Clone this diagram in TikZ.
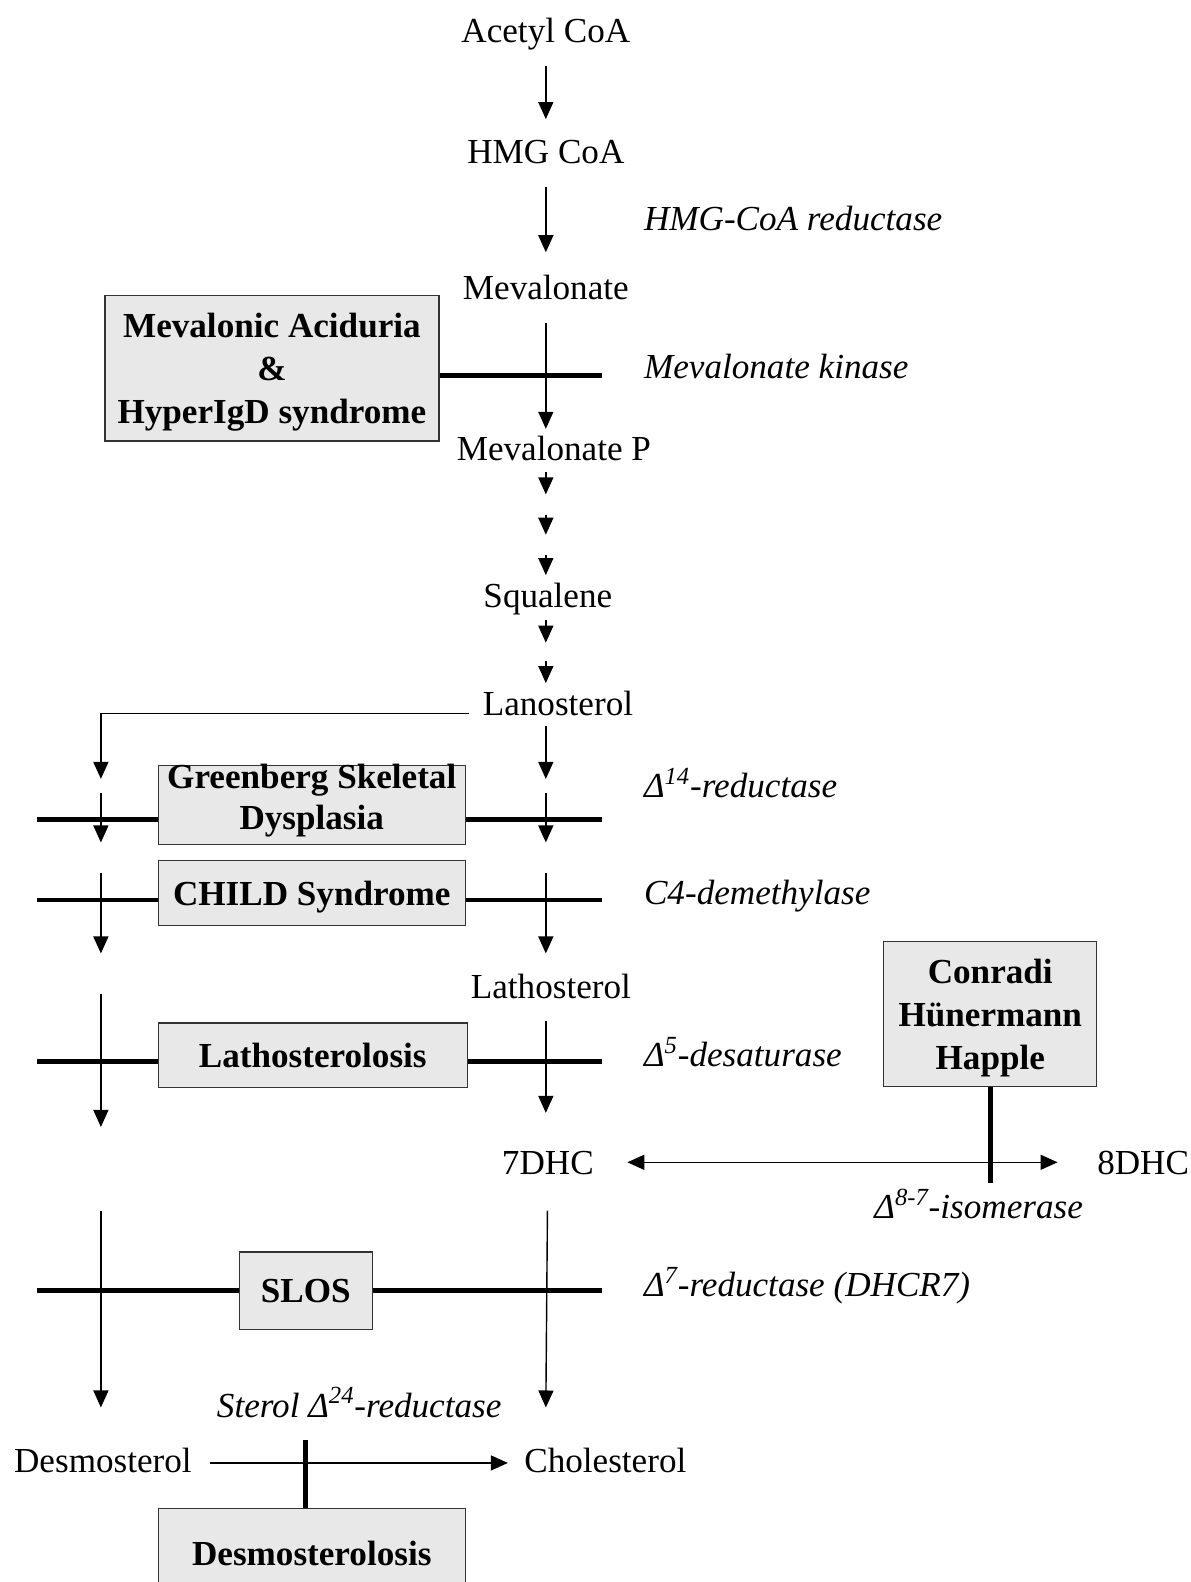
\documentclass[tikz,border=0pt]{standalone}
\usepackage{fontspec}
\setmainfont{Liberation Serif}
\usetikzlibrary{arrows.meta,positioning,calc}
\newdimen\pxu \pxu=0.02018cm

\begin{document}
\begin{tikzpicture}[
  x=0.02018cm, y=-0.02018cm,
  font=\fontsize{20}{24}\selectfont,
  metab/.style={inner sep=0pt, text height=30\pxu, text depth=5\pxu},
  enzyme/.style={inner sep=0pt, text height=30\pxu, text depth=5\pxu, font=\fontsize{20}{24}\selectfont\itshape, anchor=west},
  disease/.style={draw=black!80, fill=black!9, line width=0.7pt, align=center, inner sep=0pt, text depth=0pt, font=\fontsize{20}{24.5}\selectfont\bfseries},
  rxn/.style={-{Triangle[width=0.3cm, length=0.34cm]}, line width=0.8pt},
  block/.style={line width=2.6pt}
]
  \useasboundingbox (0,0) rectangle (1180,1568);

  % metabolites
  \node[metab] (acetyl) at (541,30) {Acetyl CoA};
  \node[metab] (hmg) at (541,150) {HMG CoA};
  \node[metab] (mev) at (541,284) {Mevalonate};
  \node[metab] (mevp) at (549,444) {Mevalonate P};
  \node[metab] (squa) at (543,590) {Squalene};
  \node[metab] (lano) at (553,697) {Lanosterol};
  \node[metab] (latho) at (546,977) {Lathosterol};
  \node[metab] (dhc7) at (543,1152) {7DHC};
  \node[metab] (dhc8) at (1133,1152) {8DHC};
  \node[metab] (desmo) at (102,1447) {Desmosterol};
  \node[metab] (chol) at (600,1447) {Cholesterol};

  % enzymes
  \node[enzyme] (hmgr) at (638,216) {HMG-CoA reductase};
  \node[enzyme] (mevk) at (638,363) {Mevalonate kinase};
  \node[enzyme] (d14) at (638,778) {Δ\textsuperscript{14}-reductase};
  \node[enzyme] (c4) at (638,884) {C4-demethylase};
  \node[enzyme] (d5) at (638,1045) {Δ\textsuperscript{5}-desaturase};
  \node[enzyme] (d7) at (638,1273) {Δ\textsuperscript{7}-reductase (DHCR7)};
  \node[enzyme, anchor=center] (d87) at (970,1195) {Δ\textsuperscript{8-7}-isomerase};
  \node[enzyme, anchor=center] (d24) at (356,1392) {Sterol Δ\textsuperscript{24}-reductase};

  % diseases
  \node[disease, minimum width=331\pxu, minimum height=144\pxu] (mevac) at (269.5,365) {Mevalonic Aciduria\\\&\\HyperIgD syndrome};
  \node[disease, minimum width=304\pxu, minimum height=78\pxu, text height=63\pxu, text depth=15\pxu,
    font=\fontsize{20}{23.5}\selectfont\bfseries] (greenberg) at (309,798) {Greenberg Skeletal\\Dysplasia};
  \node[disease, minimum width=304\pxu, minimum height=64\pxu] (child) at (309,885) {CHILD Syndrome};
  \node[disease, minimum width=306\pxu, minimum height=64\pxu] (lathosis) at (310,1046) {Lathosterolosis};
  \node[disease, minimum width=211\pxu, minimum height=144\pxu] (conradi) at (981.5,1005) {Conradi\\Hünermann\\Happle};
  \node[disease, minimum width=132\pxu, minimum height=77\pxu] (slos) at (303,1279.5) {SLOS};
  \node[disease, minimum width=304\pxu, minimum height=90\pxu] (desmosis) at (309,1540) {Desmosterolosis};

  % main column
  \draw[rxn, shorten <=35\pxu, shorten >=32\pxu] (acetyl.center) -- (hmg.center);
  \draw[rxn, shorten <=35\pxu, shorten >=34\pxu] (hmg.center) -- (mev.center);
  \draw[rxn, shorten <=36\pxu, shorten >=19\pxu] (mev.center) -- (mev.center |- mevp.center);
  \foreach \ya/\yb in {468/490, 510/530, 550/570, 615/637, 655/677}
    \draw[rxn] (541,\ya) -- (541,\yb);
  \coordinate (colR) at (541,772);
  \draw[rxn, shorten <=23\pxu] (colR |- lano.center) -- (colR);
  \draw[rxn, shorten <=13\pxu] ($(lano.west)+(0,10)$) -| (100,772);
  \foreach \ya/\yb in {786/835, 865/945} {
    \draw[rxn] (100,\ya) -- (100,\yb);
    \draw[rxn] (541,\ya) -- (541,\yb);
  }
  \draw[rxn] (100,985) -- (100,1117);
  \draw[rxn, shorten <=35\pxu] (colR |- latho.center) -- (541,1103);
  \draw[rxn] (100,1200) -- (100,1395);
  \draw[rxn, shorten <=48\pxu] (dhc7.center) -- (541,1395);

  % side reactions
  \draw[{Triangle[width=0.3cm, length=0.34cm]}-{Triangle[width=0.3cm, length=0.34cm]}, line width=0.8pt,
    shorten <=33\pxu, shorten >=39\pxu] (dhc7.east) -- (dhc8.west);
  \draw[rxn, shorten <=18\pxu, shorten >=16\pxu] ($(desmo.east)+(0,3)$) -- ($(chol.west)+(0,3)$);

  % blocks
  \coordinate (mkR) at (597,372);
  \draw[block] (mkR -| mevac.east) -- (mkR);
  \coordinate (gL) at (37,812); \coordinate (gR) at (597,812);
  \draw[block] (gL) -- (gL -| greenberg.west) (gR -| greenberg.east) -- (gR);
  \coordinate (cL) at (37,892); \coordinate (cR) at (597,892);
  \draw[block] (cL) -- (cL -| child.west) (cR -| child.east) -- (cR);
  \coordinate (lL) at (37,1052); \coordinate (lR) at (597,1052);
  \draw[block] (lL) -- (lL -| lathosis.west) (lR -| lathosis.east) -- (lR);
  \coordinate (sL) at (37,1279); \coordinate (sR) at (597,1279);
  \draw[block] (sL) -- (sL -| slos.west) (sR -| slos.east) -- (sR);
  \draw[block] (conradi.south) -- ++(0,95);
  \draw[block] (slos |- desmosis.north) -- ++(0,-67);
\end{tikzpicture}
\end{document}
